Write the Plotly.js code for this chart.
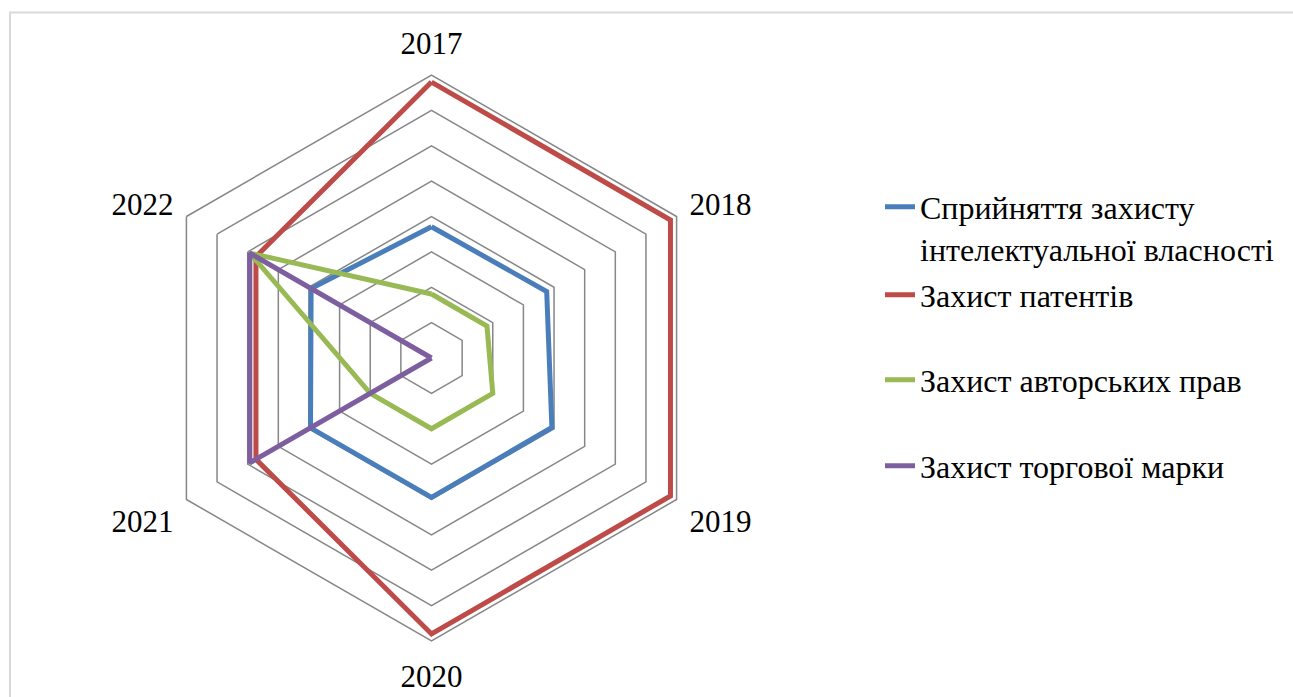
<!DOCTYPE html>
<html>
<head>
<meta charset="utf-8">
<script src="https://cdn.plot.ly/plotly-3.0.1.min.js"></script>
<style>
html,body{margin:0;padding:0;background:#fff;}
#chart{width:1293px;height:697px;}
</style>
</head>
<body>
<div id="chart"></div>
<script>
const years = ["2017", "2018", "2019", "2020", "2021", "2022"];
const seriesNames = [
  "Сприйняття захисту<br>інтелектуальної власності",
  "Захист патентів",
  "Захист авторських прав",
  "Захист торгової марки"
];
const perception = [3.71, 3.76, 3.93, 3.94, 3.95, 3.93];
const patents    = [7.8, 7.8, 7.8, 7.8, 5.73, 5.73];
const copyright  = [1.81, 1.81, 2.0, 2.0, 2.0, 5.93];
const trademark  = [0, 0, 0, 0, 5.93, 5.93];
const colors = ["#4A7EBB", "#BE4B48", "#98B954", "#7D5FA0"];

const allSeries = [perception, patents, copyright, trademark];
const legendIds = ["legend", "legend2", "legend3", "legend4"];

const traces = allSeries.map((vals, i) => ({
  type: "scatterpolar",
  mode: "lines",
  r: vals.concat([vals[0]]),
  theta: years.concat([years[0]]),
  name: seriesNames[i],
  line: {color: colors[i], width: 5},
  legend: legendIds[i],
  showlegend: true,
  hoverinfo: "skip"
}));

const W = 1293, H = 697;
const fam = "Liberation Serif, Times New Roman, serif";
const font = {family: fam, size: 31, color: "#000"};
const legendFont = {family: fam, size: 32, color: "#000"};
const legendX = 880 / W;
const legendYs = [228, 295, 380, 466];

const layout = {
  width: W, height: H,
  margin: {l: 0, r: 0, t: 0, b: 0},
  paper_bgcolor: "#fff",
  showlegend: true,
  font: font,
  polar: {
    domain: {x: [148.5 / W, 714.5 / W], y: [56 / H, 622 / H]},
    gridshape: "linear",
    bgcolor: "rgba(0,0,0,0)",
    angularaxis: {
      type: "category",
      categoryarray: years,
      rotation: 90,
      direction: "clockwise",
      showgrid: false,
      showline: true,
      linecolor: "#878787",
      linewidth: 1.5,
      ticks: "outside",
      ticklen: 8,
      tickcolor: "rgba(0,0,0,0)",
      tickfont: font
    },
    radialaxis: {
      range: [0, 8],
      dtick: 1,
      showgrid: true,
      gridcolor: "#878787",
      gridwidth: 1.5,
      showline: false,
      showticklabels: false,
      ticks: ""
    }
  },
  shapes: [{
    type: "rect", xref: "paper", yref: "paper",
    x0: 10 / W, x1: 1.05, y0: -0.05, y1: 1 - 12.5 / H,
    line: {color: "#d9d9d9", width: 2}, fillcolor: "rgba(0,0,0,0)", layer: "below"
  }]
};
legendIds.forEach((id, i) => {
  layout[id] = {
    x: legendX, y: 1 - legendYs[i] / H,
    xanchor: "left", yanchor: "middle",
    valign: "top",
    bgcolor: "rgba(0,0,0,0)",
    font: legendFont,
    itemclick: false, itemdoubleclick: false
  };
});

Plotly.newPlot("chart", traces, layout, {displayModeBar: false, staticPlot: true});
</script>
</body>
</html>
